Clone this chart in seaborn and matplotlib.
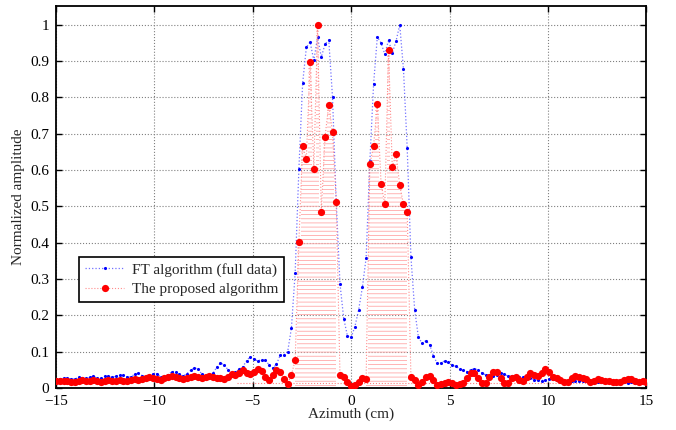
import numpy as np
import seaborn as sns
import matplotlib
matplotlib.use("Agg")
import matplotlib.pyplot as plt

# FT algorithm (full data), sampled on a uniform azimuth grid from -15 to 15 cm
ft_amp = [
    0.025, 0.025, 0.026, 0.026, 0.025, 0.024, 0.029, 0.026, 0.026, 0.029,
    0.032, 0.026, 0.027, 0.032, 0.032, 0.029, 0.032, 0.035, 0.035, 0.030,
    0.031, 0.037, 0.041, 0.034, 0.028, 0.031, 0.039, 0.039, 0.030, 0.030,
    0.036, 0.045, 0.045, 0.037, 0.033, 0.039, 0.048, 0.055, 0.052, 0.038,
    0.030, 0.032, 0.040, 0.057, 0.068, 0.064, 0.050, 0.041, 0.043, 0.052,
    0.058, 0.075, 0.086, 0.079, 0.074, 0.078, 0.076, 0.064, 0.054, 0.065,
    0.090, 0.091, 0.100, 0.165, 0.317, 0.603, 0.839, 0.938, 0.953, 0.902,
    0.966, 0.911, 0.947, 0.958, 0.801, 0.512, 0.287, 0.191, 0.143, 0.139,
    0.169, 0.215, 0.277, 0.358, 0.625, 0.837, 0.967, 0.950, 0.919, 0.958,
    0.922, 0.955, 1.000, 0.878, 0.660, 0.360, 0.215, 0.139, 0.123, 0.130,
    0.119, 0.089, 0.068, 0.068, 0.075, 0.072, 0.064, 0.059, 0.053, 0.048,
    0.045, 0.050, 0.053, 0.049, 0.041, 0.036, 0.034, 0.033, 0.035, 0.040,
    0.037, 0.033, 0.032, 0.030, 0.030, 0.029, 0.028, 0.026, 0.023, 0.021,
    0.020, 0.022, 0.024, 0.024, 0.022, 0.021, 0.020, 0.020, 0.020, 0.019,
    0.019, 0.018, 0.018, 0.019, 0.018, 0.017, 0.017, 0.016, 0.016, 0.015,
    0.015, 0.016, 0.015, 0.014, 0.015, 0.014, 0.013, 0.013, 0.012,
]

# the proposed algorithm, same grid
prop_amp = [
    0.020, 0.019, 0.018, 0.020, 0.017, 0.016, 0.019, 0.021, 0.018, 0.020,
    0.022, 0.019, 0.017, 0.020, 0.021, 0.019, 0.020, 0.022, 0.020, 0.018,
    0.021, 0.024, 0.023, 0.025, 0.028, 0.030, 0.028, 0.024, 0.022, 0.026,
    0.031, 0.034, 0.031, 0.027, 0.024, 0.026, 0.030, 0.033, 0.030, 0.028,
    0.031, 0.033, 0.030, 0.028, 0.027, 0.024, 0.030, 0.037, 0.035, 0.040,
    0.048, 0.041, 0.039, 0.045, 0.051, 0.047, 0.031, 0.022, 0.035, 0.048,
    0.043, 0.024, 0.011, 0.036, 0.076, 0.403, 0.667, 0.631, 0.898, 0.602,
    1.000, 0.485, 0.692, 0.780, 0.705, 0.512, 0.036, 0.029, 0.016, 0.006,
    0.008, 0.016, 0.027, 0.025, 0.616, 0.667, 0.782, 0.563, 0.506, 0.931,
    0.609, 0.645, 0.558, 0.506, 0.484, 0.029, 0.021, 0.008, 0.017, 0.031,
    0.034, 0.022, 0.008, 0.010, 0.013, 0.017, 0.013, 0.008, 0.010, 0.013,
    0.026, 0.040, 0.042, 0.026, 0.013, 0.013, 0.031, 0.044, 0.044, 0.026,
    0.013, 0.013, 0.026, 0.029, 0.022, 0.020, 0.031, 0.040, 0.036, 0.033,
    0.042, 0.052, 0.044, 0.031, 0.026, 0.022, 0.017, 0.015, 0.026, 0.033,
    0.029, 0.026, 0.024, 0.017, 0.020, 0.024, 0.022, 0.020, 0.020, 0.017,
    0.017, 0.017, 0.022, 0.024, 0.024, 0.020, 0.017, 0.018, 0.017,
]

# azimuth spans of the two target lobes (cm)
lobe_spans = [(-2.95, -0.67), (0.67, 2.95)]
floor_x = [-5.8, 15.0]
floor_y = [0.013, 0.013]

x_ticks = [-15, -10, -5, 0, 5, 10, 15]
y_ticks = [0, 0.1, 0.2, 0.3, 0.4, 0.5, 0.6, 0.7, 0.8, 0.9, 1]

azimuth = np.linspace(-15, 15, len(ft_amp))
ft = np.array(ft_amp)
prop = np.array(prop_amp)

sns.set_style("ticks")
plt.rcParams["font.family"] = ["Liberation Serif", "DejaVu Serif"]
plt.rcParams["hatch.linewidth"] = 0.6
plt.rcParams["axes.unicode_minus"] = True

fig = plt.figure(figsize=(6.76, 4.30), dpi=100)
ax = fig.add_axes([0.083, 0.098, 0.873, 0.888])

# pink dotted fill under the lobes
in_lobe = np.zeros(len(azimuth), dtype=bool)
for lo, hi in lobe_spans:
    in_lobe |= (azimuth >= lo) & (azimuth <= hi)
ax.fill_between(azimuth, 0, prop, where=in_lobe, step="mid",
                facecolor="none", edgecolor="#ffa8a8", hatch="----",
                linewidth=0, zorder=1)
ax.plot(floor_x, floor_y, linestyle=":", color="#ff8080", linewidth=0.8, zorder=1)

sns.lineplot(x=azimuth, y=ft, ax=ax, color="#7070ff", linestyle=":", linewidth=0.9,
             marker=".", markersize=4.5, markeredgewidth=0,
             markerfacecolor="blue",
             label="FT algorithm (full data)", zorder=3)
sns.lineplot(x=azimuth, y=prop, ax=ax, color="#ff8c8c", linestyle=":", linewidth=0.8,
             marker="o", markersize=5.2, markeredgewidth=0,
             markerfacecolor="red",
             label="The proposed algorithm", zorder=4)

ax.set_xlim(-15, 15)
ax.set_ylim(0, 1.052)
ax.set_xticks(x_ticks)
ax.set_yticks(y_ticks)
ax.set_yticklabels([f"{v:g}" for v in y_ticks])
ax.grid(True, linestyle=":", color="#808080", linewidth=0.8)
ax.set_axisbelow(True)

for side in ["top", "right", "bottom", "left"]:
    ax.spines[side].set_visible(True)
    ax.spines[side].set_linewidth(1.3)
    ax.spines[side].set_color("black")
ax.tick_params(direction="in", top=True, right=True, length=4, width=1,
               labelsize=11, colors="black")
ax.tick_params(axis="x", pad=5)
ax.tick_params(axis="y", pad=5)

ax.set_xlabel("Azimuth (cm)", fontsize=11, labelpad=0)
ax.set_ylabel("Normalized amplitude", fontsize=11, labelpad=4)

leg = ax.legend(loc="upper left", bbox_to_anchor=(0.038, 0.344), fontsize=11,
                fancybox=False, edgecolor="black", framealpha=1,
                borderpad=0.4, handlelength=2.6, handletextpad=0.5,
                labelspacing=0.4, borderaxespad=0)
leg.get_frame().set_linewidth(1.2)

fig.savefig("out.png", dpi=100)
